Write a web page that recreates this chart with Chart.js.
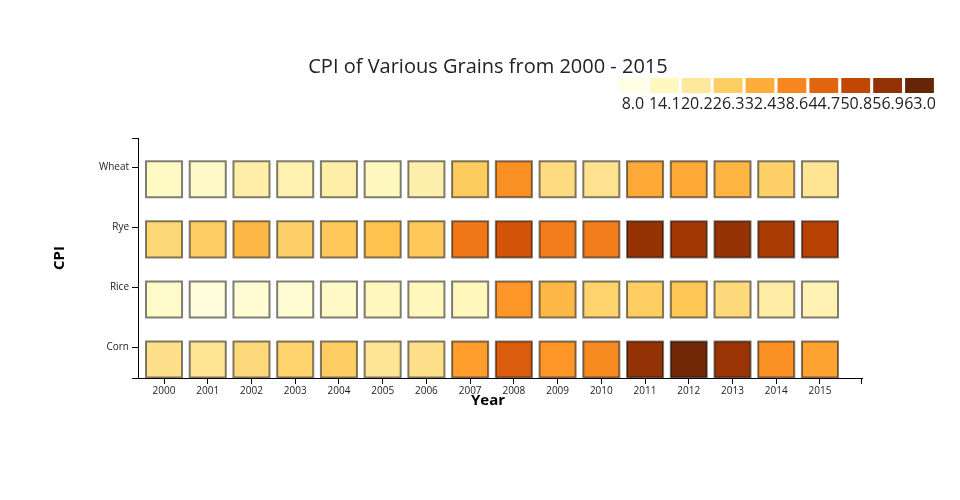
<!DOCTYPE html>
<html>
<head>
<meta charset="utf-8">
<script src="https://cdn.jsdelivr.net/npm/chart.js@4.4.1/dist/chart.umd.min.js"></script>
<style>
  html, body { margin: 0; padding: 0; background: #fff; }
  #wrap { width: 960px; height: 500px; }
</style>
</head>
<body>
<div id="wrap"><canvas id="heat" width="960" height="500"></canvas></div>
<script>
// Data
const years = [2000, 2001, 2002, 2003, 2004, 2005, 2006, 2007, 2008, 2009, 2010, 2011, 2012, 2013, 2014, 2015];
const grains = ['Corn', 'Rice', 'Rye', 'Wheat'];
const corn  = [22.5, 21.5, 24, 25.5, 26.5, 21, 22.5, 35, 46, 36, 38, 57, 61.5, 56, 37, 34];
const rice  = [12.5, 9.5, 11, 11, 13, 14.5, 15, 15, 36, 30.5, 25.5, 26.5, 28, 24, 18.5, 16.5];
const rye   = [24.5, 26.5, 30.5, 26, 27.5, 29, 27.5, 41, 47.5, 40, 40, 56.5, 55, 56.5, 54, 52];
const wheat = [13.5, 13, 18, 17, 18, 14, 17.5, 27, 37, 23.5, 22, 33, 33, 31, 26, 21.5];
const legendLabels = ['8.0', '14.1', '20.2', '26.3', '32.4', '38.6', '44.7', '50.8', '56.9', '63.0'];

const vMin = 8, vMax = 63;
// YlOrBr stops
const stops = ['#ffffe5', '#fff7bc', '#fee391', '#fec44f', '#fe9929', '#ec7014', '#cc4c02', '#993404', '#662506'];

function hexToRgb(h) {
    return [parseInt(h.slice(1, 3), 16), parseInt(h.slice(3, 5), 16), parseInt(h.slice(5, 7), 16)];
}
function colorFor(v) {
    let t = (v - vMin) / (vMax - vMin);
    t = Math.max(0, Math.min(1, t));
    const pos = t * (stops.length - 1);
    const i = Math.min(Math.floor(pos), stops.length - 2);
    const f = pos - i;
    const a = hexToRgb(stops[i]), b = hexToRgb(stops[i + 1]);
    const c = a.map((x, k) => Math.round(x + (b[k] - x) * f));
    return 'rgb(' + c.join(',') + ')';
}

const rows = [corn, rice, rye, wheat];
const datasets = rows.map((vals, r) => ({
    label: grains[r],
    data: years.map((y, i) => ({ x: y, y: r })),
    backgroundColor: vals.map(colorFor),
    borderColor: 'rgba(0,0,0,0.5)',
    borderWidth: 2,
    pointStyle: 'rect',
    pointRadius: 25.5,
    pointHoverRadius: 25.5
}));

const font = '"Open Sans", "DejaVu Sans", sans-serif';

// Title, colour legend, axis titles and axis end caps
const decor = {
    id: 'decor',
    afterDraw(chart) {
        const ctx = chart.ctx;
        const a = chart.chartArea;
        ctx.save();
        ctx.fillStyle = '#222';
        ctx.textAlign = 'center';
        ctx.textBaseline = 'middle';
        ctx.font = '20px ' + font;
        ctx.fillText('CPI of Various Grains from 2000 - 2015', 488, 67);

        // colour legend
        const lx = 618, step = 31.9, sw = 28.8;
        legendLabels.forEach((lab, i) => {
            ctx.fillStyle = colorFor(parseFloat(lab));
            ctx.fillRect(lx + i * step, 78, sw, 15);
            ctx.fillStyle = '#222';
            ctx.font = '16px ' + font;
            ctx.fillText(lab, lx + i * step + sw / 2 + 0.5, 104);
        });

        // axis titles
        ctx.fillStyle = '#000';
        ctx.font = 'bold 15px ' + font;
        ctx.fillText('Year', 488, 401);
        ctx.translate(60, 258);
        ctx.rotate(-Math.PI / 2);
        ctx.fillText('CPI', 0, 0);
        ctx.restore();

        // domain caps like d3 axes
        ctx.save();
        ctx.strokeStyle = '#000';
        ctx.lineWidth = 1;
        ctx.beginPath();
        ctx.moveTo(a.left - 6, a.top + 0.5); ctx.lineTo(a.left, a.top + 0.5);
        ctx.moveTo(a.left - 6, a.bottom + 0.5); ctx.lineTo(a.left, a.bottom + 0.5);
        ctx.moveTo(a.right - 0.5, a.bottom); ctx.lineTo(a.right - 0.5, a.bottom + 6);
        ctx.stroke();
        ctx.restore();
    }
};

const ctx = document.getElementById('heat').getContext('2d');
const heatChart = new Chart(ctx, {
    type: 'scatter',
    data: { datasets: datasets },
    options: {
        responsive: false,
        animation: false,
        layout: { padding: { left: 50, top: 138, right: 98, bottom: 90 } },
        plugins: {
            legend: { display: false },
            title: { display: false },
            tooltip: { enabled: false }
        },
        scales: {
            x: {
                type: 'linear',
                min: 1999.405,
                max: 2015.961,
                afterBuildTicks: (s) => { s.ticks = years.map(v => ({ value: v })); },
                afterFit: (s) => { s.height = 32; },
                ticks: {
                    callback: (v) => String(v),
                    font: { family: font, size: 10 },
                    color: '#222',
                    padding: 1,
                    maxRotation: 0,
                    autoSkip: false
                },
                grid: { drawOnChartArea: false, drawTicks: true, tickLength: 6, color: '#000' },
                border: { display: true, color: '#000' }
            },
            y: {
                type: 'linear',
                min: -0.308,
                max: 3.688,
                afterBuildTicks: (s) => { s.ticks = grains.map((g, i) => ({ value: i + 0.2 })); },
                afterFit: (s) => { s.width = 88; },
                ticks: {
                    callback: (v, i) => grains[i],
                    font: { family: font, size: 10 },
                    color: '#222',
                    padding: 3,
                    autoSkip: false
                },
                grid: { drawOnChartArea: false, drawTicks: true, tickLength: 6, color: '#000' },
                border: { display: true, color: '#000' }
            }
        }
    },
    plugins: [decor]
});
</script>
</body>
</html>
